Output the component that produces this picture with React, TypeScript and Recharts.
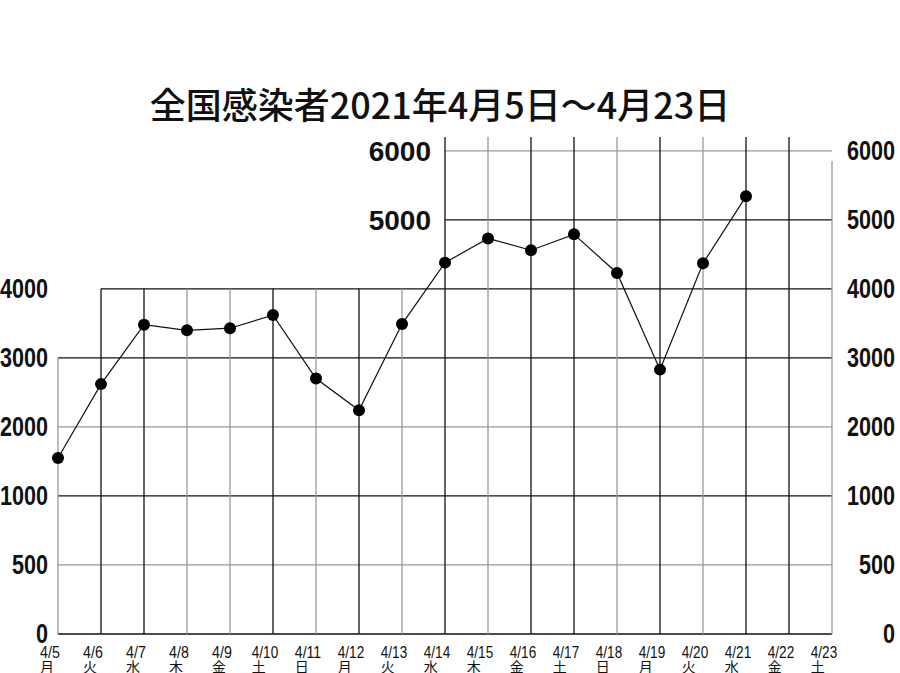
import React from "react";
import { LineChart, Line, XAxis, YAxis, ReferenceLine } from "recharts";

const dates = ["4/5", "4/6", "4/7", "4/8", "4/9", "4/10", "4/11", "4/12", "4/13", "4/14", "4/15", "4/16", "4/17", "4/18", "4/19", "4/20", "4/21", "4/22", "4/23"];
const weekdays = ["月", "火", "水", "木", "金", "土", "日", "月", "火", "水", "木", "金", "土", "日", "月", "火", "水", "金", "土"];
const cases = [1550, 2620, 3480, 3400, 3430, 3620, 2700, 2240, 3490, 4380, 4730, 4560, 4790, 4230, 2830, 4370, 5340, null, null];
const tickValues = [0, 500, 1000, 2000, 3000, 4000, 5000, 6000];

// axis steps are not linear: 0, 500, 1000, then every 1000
const toAxis = (v: number | null) => {
  if (v == null) return null;
  for (let i = 0; i < tickValues.length - 1; i++) {
    if (v <= tickValues[i + 1]) return i + (v - tickValues[i]) / (tickValues[i + 1] - tickValues[i]);
  }
  return tickValues.length - 1;
};

const data = dates.map((d, i) => ({ date: d, wd: weekdays[i], pos: toAxis(cases[i]) }));

const BLACK = "#111";
const GRAY = "#999";
const vShade = "gbbggbgbgbgbbgbgbbg";
const NUM_FONT = "'Liberation Sans Narrow', 'Arial Narrow', 'Liberation Sans', sans-serif";
const JP_FONT = "'Noto Sans CJK JP', sans-serif";

const vTop = (i: number) => (i === 0 ? 4 : i < 9 ? 5 : i < 18 ? 7.2 : 6.85);

const YLabel = ({ x, y, label }: { x: number; y: number; label: string }) => (
  <text x={x} y={y} dy={9} textAnchor="end" fontSize={28} fontWeight="bold" fontFamily={NUM_FONT} fill="#111" textLength={12 * label.length} lengthAdjust="spacingAndGlyphs">
    {label}
  </text>
);

const LeftTick = ({ x, y, payload }: any) => <YLabel x={Number(x)} y={Number(y)} label={String(tickValues[payload.value])} />;

const RightTick = ({ x, y, payload }: any) => <YLabel x={Number(x) + 63} y={Number(y)} label={String(tickValues[payload.value])} />;

const DateTick = ({ x, y, payload, index }: any) => {
  const label = String(payload.value);
  const w = 6.6 * label.length;
  const start = Number(x) - 8 - w / 2;
  const ty = Number(y);
  return (
    <g>
      <text x={start} y={ty + 24} fontSize={17} fontFamily={NUM_FONT} fill="#111" textLength={w} lengthAdjust="spacingAndGlyphs">
        {label}
      </text>
      <text x={start} y={ty + 38} fontSize={14} fontFamily={JP_FONT} fill="#111">
        {weekdays[index]}
      </text>
    </g>
  );
};

const labelStyle = { position: "left" as const, offset: 14, fontSize: 28, fontWeight: "bold", fontFamily: NUM_FONT, fill: "#111" };

export default function App() {
  return (
    <div style={{ position: "absolute", left: 0, top: 0, width: 900, height: 673, background: "#fff", overflow: "hidden" }}>
      <div
        style={{
          position: "absolute",
          left: 0,
          top: 83,
          width: 880,
          textAlign: "center",
          fontFamily: JP_FONT,
          fontSize: 36,
          fontWeight: 500,
          lineHeight: "40px",
          color: "#111",
        }}
      >
        全国感染者2021年4月5日～4月23日
      </div>
      <LineChart width={900} height={673} data={data} margin={{ top: 137, right: 8, bottom: 9, left: 8 }}>
        <XAxis dataKey="date" interval={0} axisLine={false} tickLine={false} tickSize={0} tickMargin={0} height={30} padding={{ left: 0, right: 0 }} tick={<DateTick />} />
        <YAxis yAxisId="L" orientation="left" width={50} domain={[0, 7.2]} ticks={[0, 1, 2, 3, 4, 5]} axisLine={false} tickLine={false} tickSize={0} tickMargin={10} tick={<LeftTick />} />
        <YAxis yAxisId="R" orientation="right" width={60} domain={[0, 7.2]} allowDataOverflow ticks={[0, 1, 2, 3, 4, 5, 6, 7]} axisLine={false} tickLine={false} tickSize={0} tickMargin={0} tick={<RightTick />} />

        {[0, 1, 2, 3, 4].map((k) => (
          <ReferenceLine key={"h" + k} yAxisId="L" segment={[{ x: dates[0], y: k }, { x: dates[18], y: k }]} stroke={k % 2 === 0 ? BLACK : GRAY} strokeWidth={1.3} />
        ))}
        <ReferenceLine yAxisId="L" segment={[{ x: dates[1], y: 5 }, { x: dates[18], y: 5 }]} stroke={BLACK} strokeWidth={1.3} />
        <ReferenceLine yAxisId="L" segment={[{ x: dates[9], y: 6 }, { x: dates[18], y: 6 }]} stroke={BLACK} strokeWidth={1.3} label={{ value: "5000", ...labelStyle }} />
        <ReferenceLine yAxisId="L" segment={[{ x: dates[9], y: 7 }, { x: dates[18], y: 7 }]} stroke={GRAY} strokeWidth={1.3} label={{ value: "6000", ...labelStyle }} />

        {dates.map((d, i) => (
          <ReferenceLine key={"v" + d} yAxisId="L" segment={[{ x: d, y: 0 }, { x: d, y: vTop(i) }]} stroke={vShade[i] === "b" ? BLACK : GRAY} strokeWidth={1.3} />
        ))}

        {/* right axis needs a series of its own to get a scale */}
        <Line yAxisId="R" dataKey="pos" stroke="none" dot={false} activeDot={false} legendType="none" isAnimationActive={false} />
        <Line
          yAxisId="L"
          type="linear"
          dataKey="pos"
          stroke="#111"
          strokeWidth={1.2}
          dot={{ r: 6, fill: "#000", stroke: "#000", strokeWidth: 0 }}
          activeDot={false}
          isAnimationActive={false}
        />
      </LineChart>
    </div>
  );
}
